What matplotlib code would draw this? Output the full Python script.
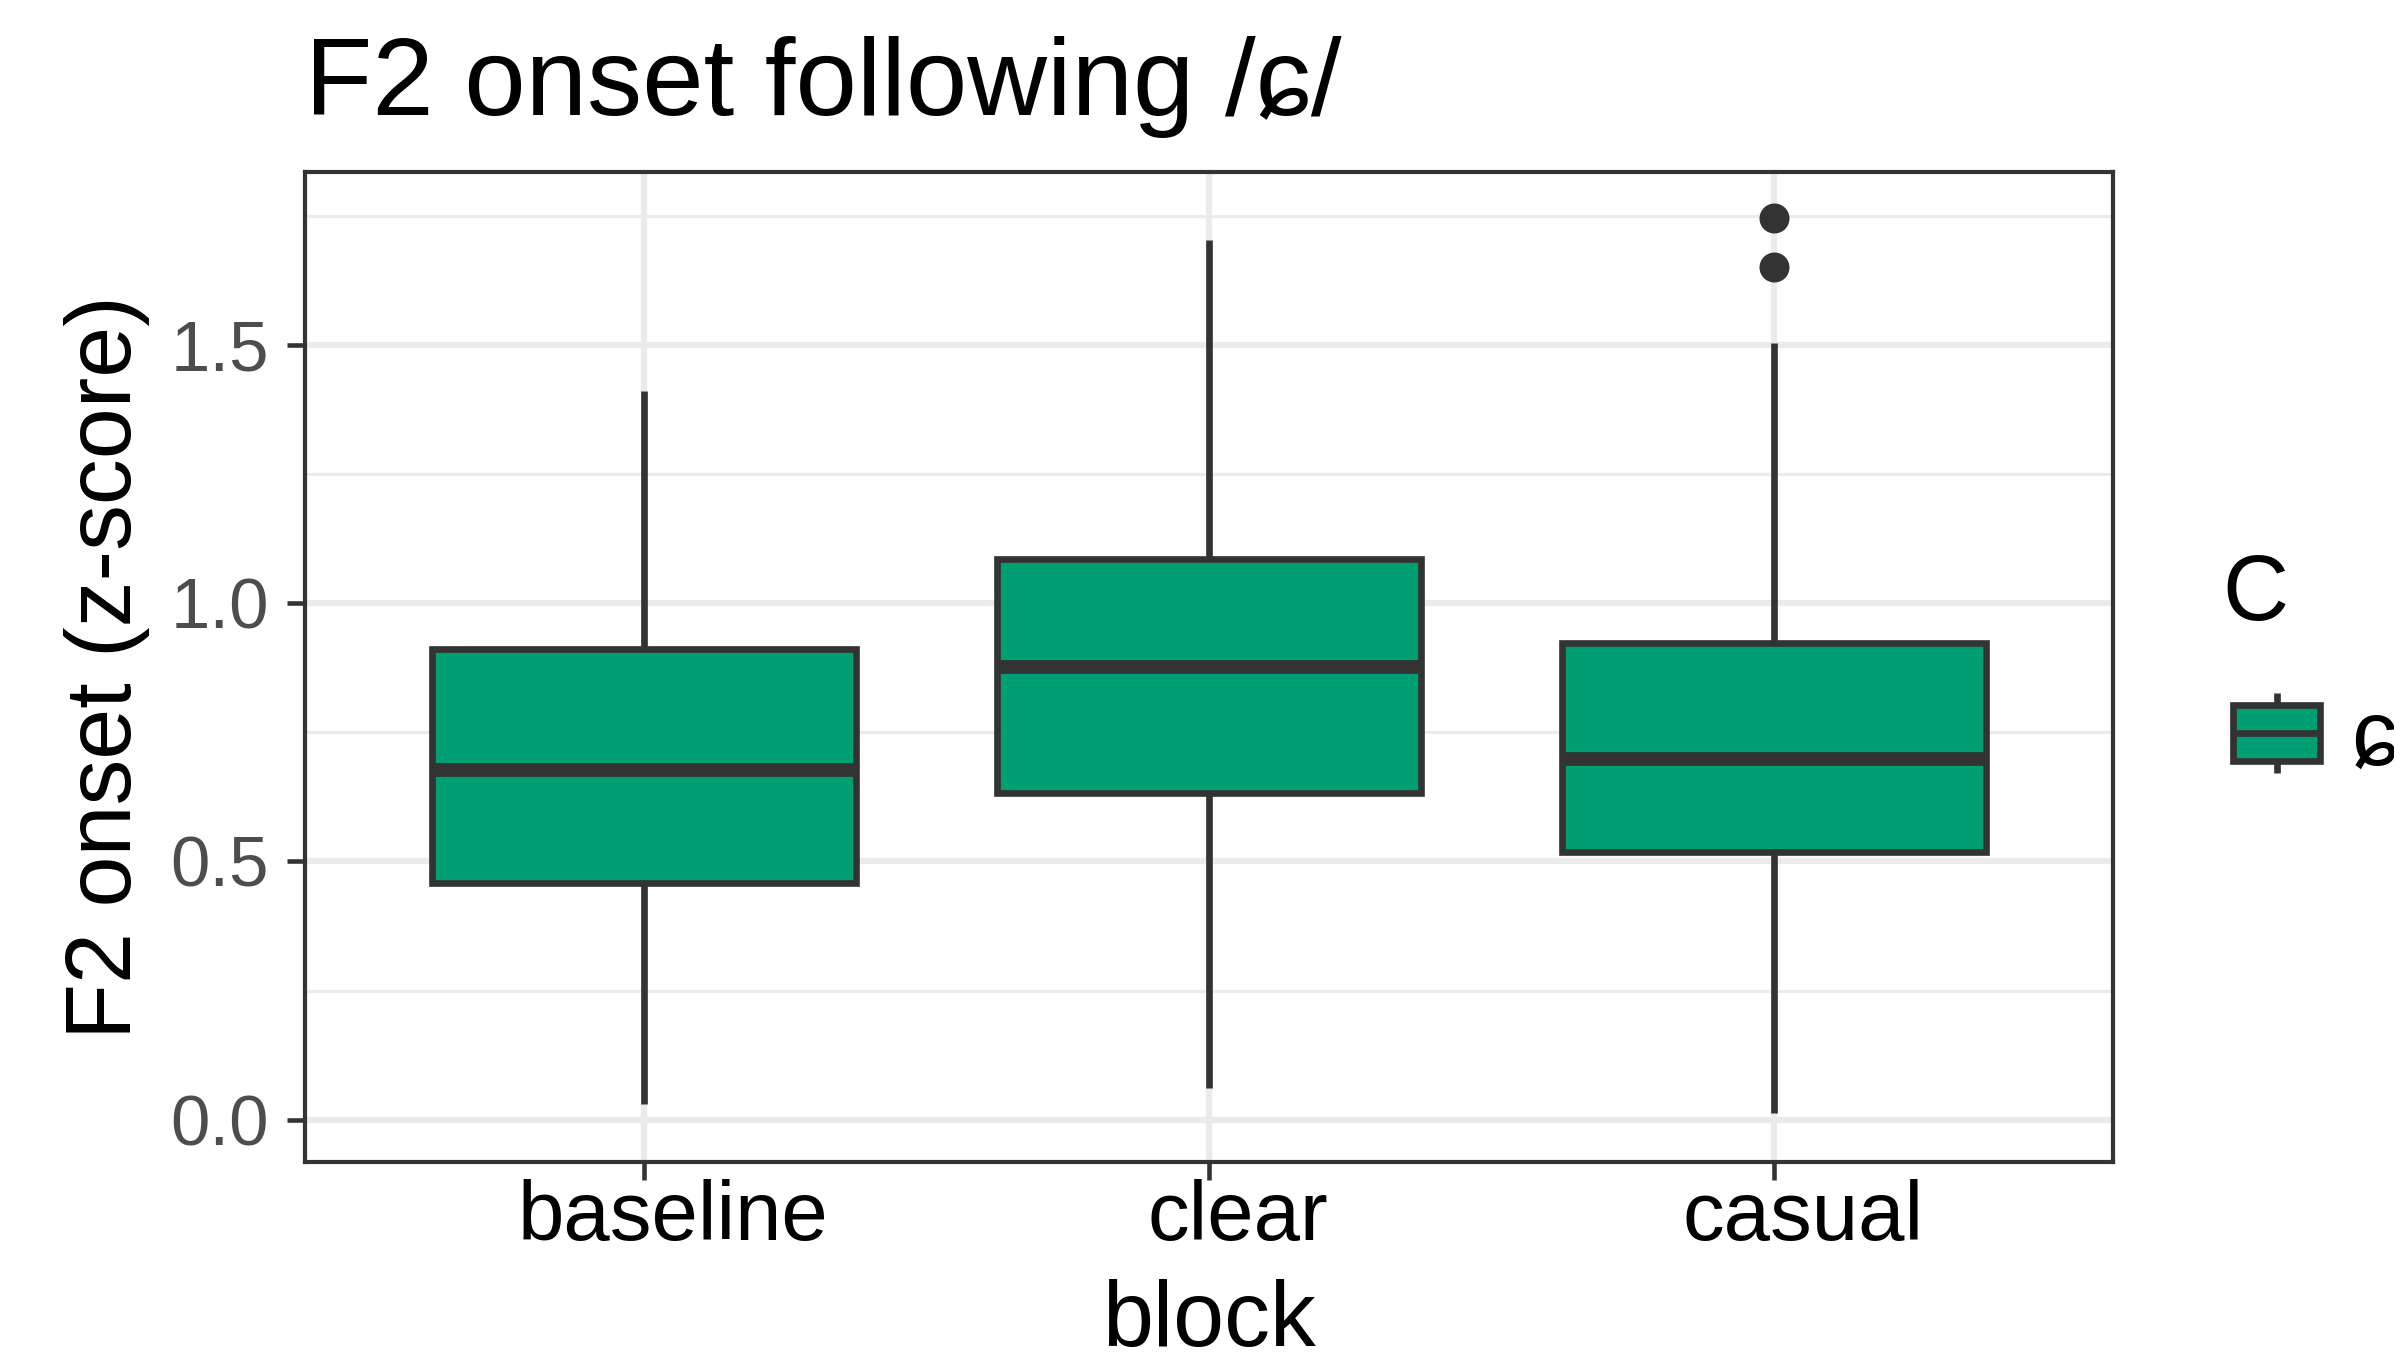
import matplotlib
matplotlib.use("Agg")
import matplotlib.pyplot as plt
import matplotlib.transforms as mtransforms
from matplotlib.legend_handler import HandlerBase
from matplotlib.patches import Rectangle, Patch
from matplotlib.lines import Line2D

plt.rcParams['font.family'] = ['Liberation Sans', 'DejaVu Sans']

# Summary statistics of F2 onset (z-score) per block
blocks = ['baseline', 'clear', 'casual']
q1 = [0.459, 0.633, 0.518]
medians = [0.678, 0.876, 0.698]
q3 = [0.911, 1.086, 0.923]
whisker_low = [0.030, 0.062, 0.012]
whisker_high = [1.411, 1.704, 1.503]
outliers = [[], [], [1.746, 1.651]]

consonant = 'ɕ'
fill_color = '#009E73'
dark = '#333333'
grid_color = '#EBEBEB'

W, H, DPI = 2394, 1361, 300
fig = plt.figure(figsize=(W / DPI, H / DPI), dpi=DPI)
ax = fig.add_axes([305 / W, 1 - 1162 / H, (2113 - 305) / W, (1162 - 172.5) / H])

stats = []
for i, b in enumerate(blocks):
    stats.append(dict(label=b, med=medians[i], q1=q1[i], q3=q3[i],
                      whislo=whisker_low[i], whishi=whisker_high[i],
                      fliers=outliers[i]))

positions = list(range(1, len(blocks) + 1))
ax.bxp(stats, positions=positions, widths=0.75, patch_artist=True,
       showcaps=False, manage_ticks=False,
       boxprops=dict(facecolor=fill_color, edgecolor=dark, linewidth=1.6),
       medianprops=dict(color=dark, linewidth=3.3, solid_capstyle='butt'),
       whiskerprops=dict(color=dark, linewidth=1.6, solid_capstyle='butt'),
       flierprops=dict(marker='o', markersize=7.2, markerfacecolor=dark,
                       markeredgecolor=dark, markeredgewidth=0))

# Axes limits, ticks and grid
ax.set_xlim(0.4, 3.6)
ax.set_ylim(-0.082, 1.834)
ax.set_xticks(positions)
ax.set_xticklabels(blocks)
ax.set_yticks([0.0, 0.5, 1.0, 1.5])
ax.set_yticklabels(['0.0', '0.5', '1.0', '1.5'])
ax.set_yticks([0.25, 0.75, 1.25, 1.75], minor=True)
ax.set_axisbelow(True)
ax.grid(True, which='major', axis='both', color=grid_color, linewidth=1.5)
ax.grid(True, which='minor', axis='y', color=grid_color, linewidth=0.75)
ax.tick_params(axis='y', which='minor', length=0)
ax.tick_params(axis='both', which='major', length=4.3, width=1.1, color=dark)
ax.tick_params(axis='y', labelsize=17, labelcolor='#4D4D4D', pad=4.3)
ax.tick_params(axis='x', labelsize=20, labelcolor='black', pad=-0.3)
for s in ax.spines.values():
    s.set_color(dark)
    s.set_linewidth(1.0)

# Shift category labels slightly to the right
offset = mtransforms.ScaledTranslation(7.0 / 72, 0, fig.dpi_scale_trans)
for lab in ax.get_xticklabels():
    lab.set_transform(lab.get_transform() + offset)

ax.set_xlabel('block', fontsize=22)
ax.set_ylabel('F2 onset (z-score)', fontsize=22)
ax.xaxis.set_label_coords(0.5, -0.118)
ax.yaxis.set_label_coords(-0.086, 0.5)

fig.text(305 / W, 1 - 114.5 / H, 'F2 onset following /' + consonant + '/',
         fontsize=26.5, ha='left', va='baseline')


class BoxKeyHandler(HandlerBase):
    """Legend key drawn as a small boxplot glyph."""

    def create_artists(self, legend, orig_handle, xdescent, ydescent,
                       width, height, fontsize, trans):
        x0, y0 = -xdescent, -ydescent
        bx0, bw = x0 + 0.1 * width, 0.8 * width
        lo, hi = y0 + 0.15 * height, y0 + 0.85 * height
        xc = x0 + width / 2
        w1 = Line2D([xc, xc], [y0, lo], color=dark, lw=1.6,
                    solid_capstyle='butt', transform=trans)
        w2 = Line2D([xc, xc], [hi, y0 + height], color=dark, lw=1.6,
                    solid_capstyle='butt', transform=trans)
        box = Rectangle((bx0, lo), bw, hi - lo, facecolor=fill_color,
                        edgecolor=dark, lw=1.6, transform=trans)
        med = Line2D([bx0, bx0 + bw], [y0 + height / 2] * 2, color=dark,
                     lw=1.6, solid_capstyle='butt', transform=trans)
        return [w1, w2, box, med]


proxy = Patch(facecolor=fill_color, edgecolor=dark, label=consonant)
leg = fig.legend(handles=[proxy], handler_map={Patch: BoxKeyHandler()},
                 loc='upper left', bbox_to_anchor=(2222 / W, 1 - 553 / H),
                 frameon=False, fontsize=22, title='C', title_fontsize=22,
                 handlelength=1.19, handleheight=0.96, handletextpad=0.22,
                 borderpad=0, borderaxespad=0, alignment='left')
leg._legend_box.sep = 13

fig.savefig('out.png', dpi=DPI, facecolor='white')
